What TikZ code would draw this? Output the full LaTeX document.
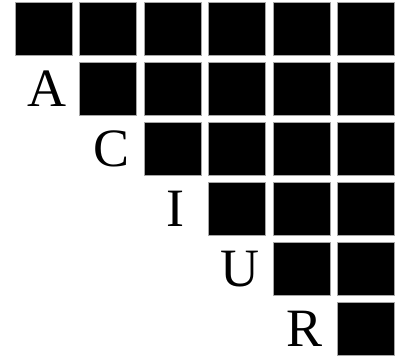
\documentclass[tikz,border=0pt]{standalone}
\usepackage{fontspec}
\setmainfont{Liberation Serif}
\usepackage{tikz}
\usetikzlibrary{positioning}
\tikzset{
  cell/.style={draw=gray!70,fill=black,line width=0.7pt,inner sep=0pt,minimum width=57pt,minimum height=52.5pt},
  lbl/.style={inner sep=0pt,font=\fontsize{54}{54}\selectfont},
}

\begin{document}
\begin{tikzpicture}[x=1pt,y=1pt]
  \useasboundingbox (0,0) rectangle (395,-358);
  % upper triangle of black cells
  \foreach \r in {0,...,5}{
    \foreach \c in {\r,...,5}{
      \node[cell] (sq-\r-\c) at ({43.75+64.5*\c},{-(28.8+60*\r)}) {};
    }
  }
  % row labels
  \node[lbl] (lblA) at ({46.75},{-88.8}) {A};
  \node[lbl] (lblC) at ({111.25},{-148.8}) {C};
  \node[lbl] (lblI) at ({175.75},{-208.8}) {I};
  \node[lbl] (lblU) at ({240.25},{-268.8}) {U};
  \node[lbl] (lblR) at ({304.75},{-328.8}) {R};
\end{tikzpicture}
\end{document}
